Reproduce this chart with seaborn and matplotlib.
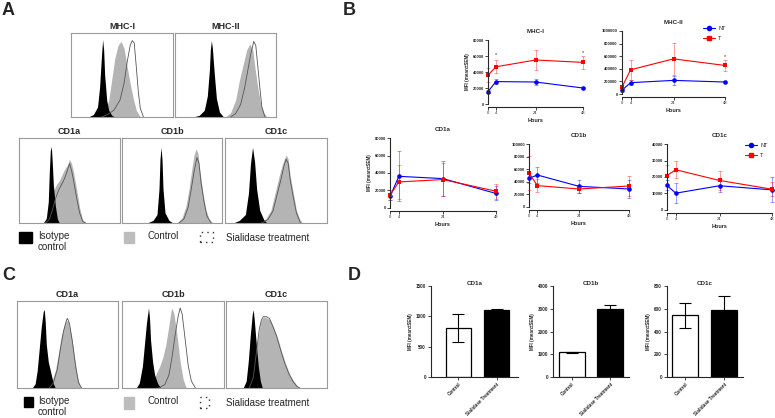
import numpy as np
import pandas as pd
import matplotlib
matplotlib.use("Agg")
import matplotlib.pyplot as plt
from matplotlib.patches import Rectangle
from matplotlib.lines import Line2D
import seaborn as sns

W, H = 775, 418

# ---------------- panel A / C : flow histograms, (x %, height %)
mhc1_iso = [(17, 0), (22, 3), (26, 12), (28, 35), (30, 75), (31, 92), (32, 80), (33, 50), (35, 20), (37, 8), (40, 2), (43, 0)]
mhc1_ctrl = [(28, 0), (33, 5), (37, 20), (40, 45), (43, 70), (46, 85), (49, 90), (52, 82), (55, 60), (58, 40), (61, 22), (64, 8), (68, 0)]
mhc1_sia = [(30, 0), (36, 3), (42, 8), (48, 20), (52, 40), (55, 65), (58, 85), (60, 91), (62, 88), (64, 60), (66, 30), (68, 10), (71, 0)]

mhc2_iso = [(18, 0), (24, 2), (29, 8), (32, 25), (34, 55), (35, 80), (36, 91), (37, 82), (39, 50), (41, 22), (44, 6), (48, 0)]
mhc2_ctrl = [(50, 0), (55, 5), (60, 20), (64, 45), (68, 65), (71, 80), (74, 87), (77, 80), (79, 60), (82, 35), (85, 15), (88, 5), (91, 0)]
mhc2_sia = [(55, 0), (60, 4), (65, 15), (69, 35), (72, 55), (75, 75), (78, 90), (80, 85), (82, 60), (84, 35), (86, 12), (89, 0)]

a_cd1a_iso = [(24, 0), (27, 5), (29, 25), (30, 60), (31, 85), (32, 90), (33, 70), (34, 45), (36, 20), (38, 5), (40, 0)]
a_cd1a_ctrl = [(24, 0), (28, 8), (31, 25), (34, 38), (37, 45), (40, 50), (43, 58), (46, 65), (48, 68), (50, 75), (52, 70), (54, 60), (57, 40), (60, 18), (63, 4), (66, 0)]
a_cd1a_sia = [(26, 0), (30, 4), (33, 15), (36, 28), (39, 38), (42, 45), (45, 52), (48, 62), (50, 70), (52, 62), (54, 50), (57, 30), (60, 12), (63, 2), (66, 0)]

a_cd1b_iso = [(25, 0), (31, 3), (35, 10), (37, 40), (38, 75), (39, 89), (40, 75), (41, 40), (43, 12), (47, 3), (51, 0)]
a_cd1b_ctrl = [(55, 0), (60, 6), (64, 20), (67, 40), (70, 65), (72, 80), (74, 87), (76, 82), (78, 60), (81, 35), (84, 15), (87, 5), (91, 0)]
a_cd1b_sia = [(57, 0), (62, 5), (66, 18), (69, 38), (72, 60), (75, 77), (77, 70), (79, 48), (82, 25), (85, 8), (89, 0)]

a_cd1c_iso = [(8, 0), (14, 3), (20, 10), (23, 35), (25, 70), (27, 89), (29, 72), (31, 40), (34, 15), (38, 4), (41, 0)]
a_cd1c_ctrl = [(34, 0), (40, 5), (45, 15), (49, 35), (53, 55), (56, 68), (58, 75), (60, 80), (62, 75), (64, 55), (67, 35), (70, 15), (73, 5), (76, 0)]
a_cd1c_sia = [(36, 0), (42, 4), (47, 14), (51, 33), (55, 52), (58, 68), (60, 75), (62, 70), (64, 50), (67, 30), (70, 12), (74, 0)]

c_cd1a_iso = [(15, 0), (18, 5), (20, 20), (22, 45), (24, 70), (26, 88), (27, 90), (28, 75), (29, 50), (31, 30), (34, 15), (36, 5), (38, 0)]
c_cd1a_ctrl = [(30, 0), (34, 6), (38, 20), (41, 40), (44, 60), (47, 73), (49, 78), (51, 76), (54, 60), (57, 35), (60, 12), (63, 0)]
c_cd1a_sia = [(32, 0), (36, 6), (40, 22), (43, 45), (46, 65), (49, 78), (50, 80), (52, 74), (55, 52), (58, 25), (61, 6), (64, 0)]

c_cd1b_iso = [(14, 0), (17, 6), (20, 25), (22, 50), (24, 75), (26, 92), (27, 80), (28, 55), (30, 30), (32, 15), (35, 5), (38, 0)]
c_cd1b_ctrl = [(22, 0), (28, 5), (33, 15), (37, 25), (40, 35), (43, 50), (46, 72), (48, 88), (49, 92), (51, 85), (54, 60), (57, 30), (60, 10), (63, 0)]
c_cd1b_sia = [(36, 0), (42, 4), (46, 15), (49, 35), (52, 60), (55, 82), (57, 92), (59, 85), (62, 55), (65, 25), (68, 8), (72, 0)]

c_cd1c_iso = [(17, 0), (20, 8), (22, 30), (24, 60), (26, 85), (27, 90), (28, 78), (30, 50), (32, 25), (34, 8), (36, 0)]
c_cd1c_ctrl = [(22, 0), (26, 10), (29, 35), (32, 60), (34, 75), (36, 80), (38, 82), (41, 80), (44, 78), (47, 70), (51, 58), (55, 42), (59, 28), (63, 16), (67, 8), (71, 2), (74, 0)]
c_cd1c_sia = [(23, 0), (27, 12), (30, 40), (33, 68), (35, 78), (37, 82), (40, 82), (43, 80), (46, 72), (50, 60), (54, 44), (58, 29), (62, 17), (66, 8), (70, 2), (73, 0)]

hist_legend = ["Isotype\ncontrol", "Control", "Sialidase treatment"]

# ---------------- panel B : MFI over time (mean, SEM)
hours = [0, 4, 24, 48]
mhc1_nt = [15500, 28000, 27500, 20000]
mhc1_nt_sem = [2000, 3000, 4000, 1000]
mhc1_t = [36000, 46500, 55000, 52000]
mhc1_t_sem = [9000, 8000, 13000, 8000]
mhc1_stars = [(4, 62000), (48, 64000)]

mhc2_nt = [60000, 180000, 216000, 190000]
mhc2_nt_sem = [30000, 40000, 70000, 10000]
mhc2_t = [110000, 384000, 558000, 453000]
mhc2_t_sem = [30000, 155000, 250000, 80000]
mhc2_stars = [(48, 600000)]

cd1a_nt = [13200, 36200, 33600, 16600]
cd1a_nt_sem = [4000, 28500, 20000, 8000]
cd1a_t = [14700, 29800, 32500, 19200]
cd1a_t_sem = [6000, 19600, 19000, 8500]

cd1b_nt = [45500, 50800, 32800, 28600]
cd1b_nt_sem = [8000, 13000, 10000, 14500]
cd1b_t = [54000, 33900, 28600, 33300]
cd1b_t_sem = [27000, 10000, 6000, 16000]

cd1c_nt = [14900, 10200, 14700, 12200]
cd1c_nt_sem = [3000, 6000, 4000, 7500]
cd1c_t = [20900, 24400, 17900, 12600]
cd1c_t_sem = [6300, 5200, 5600, 4200]

# ---------------- panel D : bar charts
d_groups = ["Control", "Sialidase Treatment"]
d_cd1a = [810, 1110]
d_cd1a_sem = [235, 5]
d_cd1b = [1080, 3000]
d_cd1b_sem = [40, 170]
d_cd1c = [542, 586]
d_cd1c_sem = [111, 123]

PAL = {"NT": "#0000ff", "T": "#ff0000"}
GRAY = "#b4b4b4"

sns.set_style("ticks")
plt.rcParams["font.family"] = ["Liberation Sans", "DejaVu Sans"]

fig = plt.figure(figsize=(W / 100, H / 100), dpi=100)


def box(x0, y0, x1, y1):
    return [x0 / W, 1 - y1 / H, (x1 - x0) / W, (y1 - y0) / H]


def ftext(x, y, s, **kw):
    fig.text(x / W, 1 - y / H, s, **kw)


def hist_panel(rect, title, iso, ctrl, sia):
    ax = fig.add_axes(box(*rect))
    gx, gy = zip(*ctrl)
    bx, by = zip(*iso)
    sx, sy = zip(*sia)
    ax.fill_between(gx, gy, color=GRAY, lw=0)
    ax.fill_between(bx, by, color="black", lw=0)
    ax.plot(sx, sy, color="#555555", lw=0.6)
    ax.set_xlim(0, 100)
    ax.set_ylim(0, 100)
    ax.set_xticks([])
    ax.set_yticks([])
    for sp in ax.spines.values():
        sp.set_color("#9a9a9a")
        sp.set_linewidth(0.8)
    ax.set_title(title, fontsize=6.5, fontweight="bold", pad=3)
    return ax


def legend_row(sq_x, sq_y, sq_w, sq_h, txt_y):
    # black, gray and dotted squares with their labels
    fig.patches.append(Rectangle((sq_x[0] / W, 1 - (sq_y + sq_h[0]) / H), sq_w[0] / W, sq_h[0] / H,
                                 transform=fig.transFigure, color="black"))
    fig.patches.append(Rectangle((sq_x[1] / W, 1 - (sq_y + sq_h[1]) / H), sq_w[1] / W, sq_h[1] / H,
                                 transform=fig.transFigure, color="#bdbdbd"))
    fig.patches.append(Rectangle((sq_x[2] / W, 1 - (sq_y + sq_h[2]) / H), sq_w[2] / W, sq_h[2] / H,
                                 transform=fig.transFigure, fill=False, ec="#333333", lw=1.0, ls=(0, (1, 3))))
    ftext(38, txt_y - 6, hist_legend[0], fontsize=7, va="top", linespacing=1.1)
    ftext(148, txt_y - 1, hist_legend[1], fontsize=7, va="center")
    ftext(226, txt_y + 1, hist_legend[2], fontsize=7, va="center")


def time_panel(rect, title, nt, nt_sem, t, t_sem, yticks, ylabel=False, legend_at=None, stars=()):
    ax = fig.add_axes(box(*rect))
    df = pd.DataFrame({"Hours": hours * 2, "MFI": nt + t, "Group": ["NT"] * 4 + ["T"] * 4})
    for grp, m, s in (("NT", nt, nt_sem), ("T", t, t_sem)):
        ax.errorbar(hours, m, yerr=s, fmt="none", ecolor=PAL[grp], alpha=0.45,
                    elinewidth=0.6, capsize=1.6, capthick=0.6, clip_on=False)
    sns.lineplot(data=df, x="Hours", y="MFI", hue="Group", style="Group",
                 markers={"NT": "o", "T": "s"}, dashes=False, palette=PAL,
                 markersize=3.3, markeredgewidth=0, linewidth=0.8, legend=False, ax=ax)
    for ln in ax.lines:
        ln.set_clip_on(False)
    for sx, sy in stars:
        ax.text(sx, sy, "*", ha="center", va="center", fontsize=4)
    ax.set_xlim(0, 48)
    ax.set_ylim(0, yticks[-1])
    ax.set_xticks(hours)
    ax.set_yticks(yticks)
    ax.set_yticklabels([str(v) for v in yticks])
    ax.tick_params(labelsize=3, length=2, width=0.6, pad=1)
    for lab in ax.get_xticklabels() + ax.get_yticklabels():
        lab.set_fontweight("bold")
    sns.despine(ax=ax)
    ax.spines["left"].set_linewidth(0.8)
    ax.spines["bottom"].set_linewidth(0.8)
    ax.spines["bottom"].set_position(("outward", 2))
    ax.set_xlabel("Hours", fontsize=4, fontweight="bold", labelpad=2)
    ax.set_ylabel("MFI (mean±SEM)" if ylabel else "", fontsize=3.3, fontweight="bold", labelpad=2)
    ax.set_title(title, fontsize=4.5, fontweight="bold", pad=5)
    if legend_at is not None:
        handles = [Line2D([0], [0], color=PAL["NT"], marker="o", ms=3, lw=0.8, label="NT"),
                   Line2D([0], [0], color=PAL["T"], marker="s", ms=3, lw=0.8, label="T")]
        ax.legend(handles=handles, loc="upper left", bbox_to_anchor=legend_at, frameon=False,
                  fontsize=4, handlelength=2.2, handletextpad=0.6, labelspacing=0.9, borderaxespad=0)
    return ax


def bar_panel(rect, title, vals, sems, yticks, xlim):
    ax = fig.add_axes(box(*rect))
    df = pd.DataFrame({"Group": d_groups, "MFI": vals})
    sns.barplot(data=df, x="Group", y="MFI", hue="Group", palette=["white", "black"],
                edgecolor="black", linewidth=0.9, width=0.66, legend=False, ax=ax)
    ax.errorbar([0, 1], vals, yerr=sems, fmt="none", ecolor="black",
                elinewidth=0.8, capsize=4, capthick=0.8)
    ax.set_xlim(*xlim)
    ax.set_ylim(0, yticks[-1])
    ax.set_yticks(yticks)
    ax.set_xticks([0, 1])
    ax.set_xticklabels(d_groups, rotation=45, ha="right", rotation_mode="anchor")
    ax.tick_params(labelsize=3.3, length=2, width=0.6, pad=1.5)
    for lab in ax.get_xticklabels() + ax.get_yticklabels():
        lab.set_fontweight("bold")
    sns.despine(ax=ax)
    ax.spines["left"].set_linewidth(0.8)
    ax.spines["bottom"].set_linewidth(0.8)
    ax.set_xlabel("")
    ax.set_ylabel("MFI (mean±SEM)", fontsize=3.3, fontweight="bold", labelpad=2)
    ax.set_title(title, fontsize=4.5, fontweight="bold", pad=1)
    return ax


# panel A
hist_panel((71, 33, 173, 117), "MHC-I", mhc1_iso, mhc1_ctrl, mhc1_sia)
hist_panel((175, 33, 276, 117), "MHC-II", mhc2_iso, mhc2_ctrl, mhc2_sia)
hist_panel((19, 138, 120, 223), "CD1a", a_cd1a_iso, a_cd1a_ctrl, a_cd1a_sia)
hist_panel((122, 138, 222, 223), "CD1b", a_cd1b_iso, a_cd1b_ctrl, a_cd1b_sia)
hist_panel((225, 138, 327, 223), "CD1c", a_cd1c_iso, a_cd1c_ctrl, a_cd1c_sia)
legend_row((19, 124, 200), 232, (13, 10, 13), (11, 11, 10), 237)

# panel C
hist_panel((17, 301, 118, 388), "CD1a", c_cd1a_iso, c_cd1a_ctrl, c_cd1a_sia)
hist_panel((122, 301, 224, 388), "CD1b", c_cd1b_iso, c_cd1b_ctrl, c_cd1b_sia)
hist_panel((226, 301, 327, 388), "CD1c", c_cd1c_iso, c_cd1c_ctrl, c_cd1c_sia)
legend_row((24, 124, 200), 397, (9, 10, 9), (10, 12, 11), 402)

# panel B
time_panel((488, 40, 583, 104), "MHC-I", mhc1_nt, mhc1_nt_sem, mhc1_t, mhc1_t_sem,
           [0, 20000, 40000, 60000, 80000], ylabel=True, stars=mhc1_stars)
time_panel((622, 31, 725, 94), "MHC-II", mhc2_nt, mhc2_nt_sem, mhc2_t, mhc2_t_sem,
           [0, 200000, 400000, 600000, 800000, 1000000], legend_at=(0.76, 1.12), stars=mhc2_stars)
time_panel((390, 138, 496, 208), "CD1a", cd1a_nt, cd1a_nt_sem, cd1a_t, cd1a_t_sem,
           [0, 20000, 40000, 60000, 80000], ylabel=True)
time_panel((529, 144, 629, 207), "CD1b", cd1b_nt, cd1b_nt_sem, cd1b_t, cd1b_t_sem,
           [0, 20000, 40000, 60000, 80000, 100000])
time_panel((667, 144, 772, 210), "CD1c", cd1c_nt, cd1c_nt_sem, cd1c_t, cd1c_t_sem,
           [0, 10000, 20000, 30000, 40000], legend_at=(0.72, 1.05))

# panel D
bar_panel((431, 286, 518, 377), "CD1a", d_cd1a, d_cd1a_sem, [0, 500, 1000, 1500], (-0.72, 1.56))
bar_panel((553, 286, 629, 377), "CD1b", d_cd1b, d_cd1b_sem, [0, 1000, 2000, 3000, 4000], (-0.5, 1.5))
bar_panel((667, 286, 743, 377), "CD1c", d_cd1c, d_cd1c_sem, [0, 200, 400, 600, 800], (-0.47, 1.48))

# panel letters
for letter, x, y in (("A", 2, 2), ("B", 343, 2), ("C", 2, 267), ("D", 348, 267)):
    ftext(x, y, letter, fontsize=13, fontweight="bold", va="top")

fig.savefig("out.png", dpi=100)
